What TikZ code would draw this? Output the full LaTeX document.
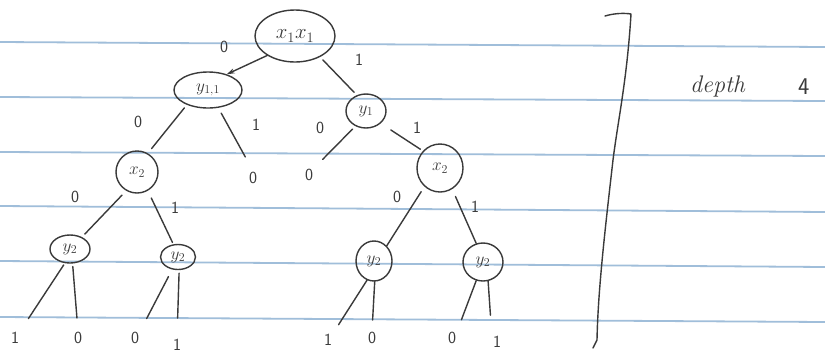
\documentclass[tikz,border=0pt]{standalone}
\usetikzlibrary{shapes.geometric,arrows.meta}
\definecolor{pencil}{RGB}{58,58,58}
\definecolor{ruling}{RGB}{160,190,218}

\begin{document}
\begin{tikzpicture}[x=1pt,y=-1pt,
  pen/.style={draw=pencil,line width=1.4pt,line cap=round,line join=round},
  var/.style={ellipse,pen,inner sep=0pt,text=pencil,font=\fontsize{18}{18}\selectfont},
  bit/.style={text=pencil,inner sep=1pt,font=\sffamily\fontsize{17}{17}\selectfont},
  branch/.style={pen},
  notebook/.style={draw=ruling,line width=1.8pt}
]
\useasboundingbox (0,0) rectangle (825,360);
\fill[white] (0,0) rectangle (825,360);

% ruled notebook lines
\foreach \yl/\yr in {42/47,97/101,152/156,206/212,261/267,317/322}
  \draw[notebook] (0,\yl) -- (825,\yr);

% decision nodes
\node[var,minimum width=80pt,minimum height=52pt,font=\fontsize{21}{21}\selectfont] (r) at (295,36) {$x_1x_1$};
\node[var,minimum width=68pt,minimum height=36pt] (y11) at (208,90) {$y_{1,1}$};
\node[var,minimum width=40pt,minimum height=34pt] (y1) at (366,111) {$y_1$};
\node[var,minimum width=42pt,minimum height=42pt] (x2l) at (137,172) {$x_2$};
\node[var,minimum width=46pt,minimum height=48pt] (x2r) at (440,168) {$x_2$};
\node[var,minimum width=40pt,minimum height=28pt] (y2a) at (70,249) {$y_2$};
\node[var,minimum width=35pt,minimum height=25pt] (y2b) at (178,257) {$y_2$};
\node[var,minimum width=36pt,minimum height=40pt] (y2c) at (374,261) {$y_2$};
\node[var,minimum width=40pt,minimum height=38pt] (y2d) at (483,262) {$y_2$};

% leaves
\node[bit] (m1) at (253,178) {0};
\node[bit] (m2) at (309,175) {0};
\node[bit] (l1) at (15,338) {1};
\node[bit] (l2) at (78,338) {0};
\node[bit] (l3) at (135,338) {0};
\node[bit] (l4) at (177,345) {1};
\node[bit] (l5) at (328,340) {1};
\node[bit] (l6) at (372,338) {0};
\node[bit] (l7) at (452,338) {0};
\node[bit] (l8) at (497,342) {1};

% branches
\draw[branch,-{Stealth[length=8pt,width=5pt]}] (r.215) -- (y11.40);
\draw[branch,shorten <=4pt,shorten >=4pt] (r.320) -- (y1.120);
\draw[branch,shorten <=4pt,shorten >=6pt] (y11.215) -- (x2l.60);
\draw[branch,shorten <=6pt,shorten >=16pt] (y11.300) -- (m1.north);
\draw[branch,shorten <=4pt,shorten >=12pt] (y1.235) -- (m2.north east);
\draw[branch,shorten <=12pt,shorten >=3pt] (y1.320) -- (x2r.135);
\draw[branch,shorten <=6pt,shorten >=4pt] (x2l.240) -- (y2a.45);
\draw[branch,shorten <=8pt,shorten >=2pt] (x2l.300) -- (y2b.110);
\draw[branch,shorten <=6pt] (x2r.230) -- (y2c.50);
\draw[branch,shorten <=8pt] (x2r.300) -- (y2d.110);
\draw[branch,shorten <=2pt,shorten >=15pt] (y2a.250) -- (l1.north east);
\draw[branch,shorten <=3pt,shorten >=13pt] (y2a.280) -- (l2.north);
\draw[branch,shorten <=8pt,shorten >=14pt] (y2b.245) -- (l3.north east);
\draw[branch,shorten <=3pt,shorten >=20pt] (y2b.275) -- (l4.north);
\draw[branch,shorten >=10pt] (y2c.250) -- (l5.north east);
\draw[branch,shorten >=11pt] (y2c.272) -- (l6.north);
\draw[branch,shorten >=12pt] (y2d.250) -- (l7.north east);
\draw[branch,shorten >=20pt] (y2d.285) -- (l8.north west);

% branch labels
\node[bit] (e1) at (224,47) {0};
\node[bit] (e2) at (359,60) {1};
\node[bit] (e3) at (138,122) {0};
\node[bit] (e4) at (256,125) {1};
\node[bit] (e5) at (320,128) {0};
\node[bit] (e6) at (417,128) {1};
\node[bit] (e7) at (75,197) {0};
\node[bit] (e8) at (175,208) {1};
\node[bit] (e9) at (397,197) {0};
\node[bit] (e10) at (475,207) {1};

% bracket closing the tree
\draw[pen] (605,16) .. controls (615,13) and (625,13) .. (631,14)
  .. controls (627,80) and (618,120) .. (613,160)
  .. controls (605,230) and (598,290) .. (597,340) -- (593,348);

% depth annotation
\node[text=pencil,anchor=base west,inner sep=0pt,font=\itshape\fontsize{24}{24}\selectfont] (depth) at (690,92) {depth};
\node[text=pencil,anchor=base west,inner sep=0pt,font=\sffamily\fontsize{24}{24}\selectfont] (four) at (798,94) {4};
\end{tikzpicture}
\end{document}
